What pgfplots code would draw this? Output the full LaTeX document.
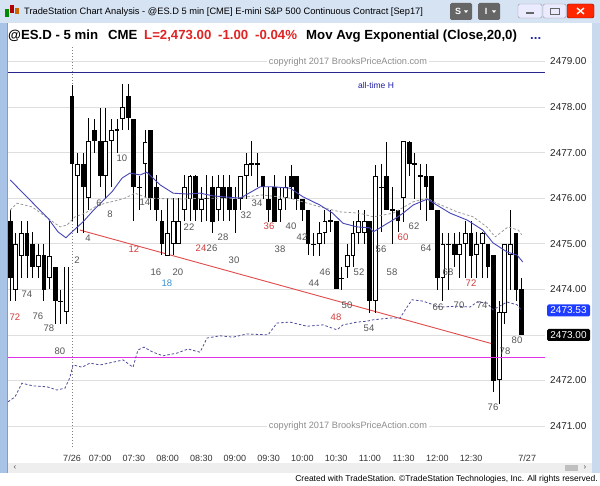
\documentclass[border=0pt]{standalone}
\usepackage{pgfplots}
\pgfplotsset{compat=1.18}
\usepackage{pgfplotstable}
\usepackage{fontspec}
\setmainfont{Liberation Sans}
\definecolor{framebg}{HTML}{C9D9EE}
\definecolor{titlebg}{HTML}{D6E3F3}
\definecolor{leftblue}{HTML}{A9C3E6}
\definecolor{scrollbg}{HTML}{EEEEEE}
\definecolor{hdrred}{HTML}{E02424}
\definecolor{hdrblue}{HTML}{2A2AA0}
\definecolor{emablue}{HTML}{4646B8}
\definecolor{dashgray}{HTML}{9A9A9A}
\definecolor{dashblue}{HTML}{4C4C9C}
\definecolor{trendred}{HTML}{E04A4A}
\definecolor{athnavy}{HTML}{26268C}
\definecolor{lblgray}{HTML}{555555}
\definecolor{lblred}{HTML}{D23C3C}
\definecolor{lblblue}{HTML}{3A8FD0}
\definecolor{pxblue}{HTML}{1E3CFF}
\definecolor{levelpink}{RGB}{230,50,230}

\pgfplotstableread{
u O H L C
-9 2474.00 2475.25 2473.75 2475.00
-8 2474.75 2475.50 2474.25 2475.25
-5 2474.50 2475.00 2474.25 2474.75
-3 2474.25 2475.50 2474.00 2474.75
0 2473.50 2474.50 2473.25 2474.50
2 2476.50 2477.00 2475.25 2476.75
4 2476.00 2477.75 2475.75 2477.25
7 2476.50 2478.00 2476.00 2477.25
8 2477.25 2477.75 2476.25 2477.50
10 2477.75 2478.50 2477.50 2478.00
14 2476.75 2477.50 2476.00 2477.25
18 2474.75 2476.00 2474.75 2475.25
19 2475.00 2476.00 2474.75 2475.50
20 2475.00 2476.00 2475.00 2475.50
21 2475.75 2476.50 2475.50 2476.25
22 2476.00 2476.50 2475.50 2476.50
24 2475.75 2476.25 2475.50 2476.00
27 2475.75 2476.50 2475.50 2476.25
31 2476.00 2476.50 2475.75 2476.50
32 2476.50 2477.00 2476.00 2476.75
38 2475.75 2476.25 2475.50 2476.00
39 2476.00 2476.50 2475.75 2476.25
45 2475.00 2475.50 2474.75 2475.25
46 2475.25 2475.75 2475.00 2475.50
50 2474.50 2475.00 2474.25 2474.75
51 2474.75 2475.50 2474.50 2475.25
52 2475.25 2475.75 2475.00 2475.50
53 2475.25 2475.75 2475.00 2475.50
55 2473.75 2476.75 2473.50 2476.50
60 2476.00 2477.25 2475.50 2477.25
67 2474.25 2475.25 2473.75 2475.00
70 2474.75 2475.25 2474.25 2475.00
71 2475.00 2475.50 2474.25 2475.25
73 2474.75 2475.25 2474.25 2475.00
74 2475.00 2475.25 2474.25 2475.25
77 2472.00 2473.75 2471.50 2473.50
78 2473.50 2475.00 2473.25 2475.00
79 2474.75 2475.75 2474.00 2475.00
}\bull

\pgfplotstableread{
u O H L C
-10 2475.50 2475.75 2473.75 2474.25
-7 2475.25 2475.50 2474.25 2474.75
-6 2475.00 2475.25 2474.25 2474.50
-4 2474.75 2475.00 2473.75 2474.00
-2 2474.50 2474.50 2473.25 2473.75
-1 2473.75 2474.00 2473.25 2473.75
1 2478.25 2478.50 2475.50 2476.75
3 2476.75 2477.00 2475.25 2476.25
5 2477.50 2477.75 2477.00 2477.25
6 2477.25 2478.00 2476.25 2476.50
9 2477.50 2477.75 2477.00 2477.50
11 2478.25 2478.50 2477.50 2477.75
12 2477.75 2477.75 2475.50 2476.25
13 2476.25 2476.50 2475.75 2476.25
15 2477.50 2477.50 2475.75 2476.00
16 2476.25 2476.50 2475.50 2475.75
17 2475.50 2475.75 2474.75 2475.00
23 2476.50 2476.50 2475.50 2475.75
25 2476.00 2476.50 2475.50 2476.00
26 2476.25 2476.50 2475.25 2475.50
28 2476.25 2476.50 2475.50 2476.00
29 2476.25 2476.50 2475.50 2475.75
30 2476.00 2476.25 2475.25 2475.75
33 2476.75 2477.25 2476.50 2476.75
34 2476.75 2477.00 2476.25 2476.75
35 2476.50 2476.50 2476.00 2476.25
36 2476.00 2476.25 2475.50 2475.75
37 2476.25 2476.50 2475.50 2475.50
40 2476.50 2476.75 2476.00 2476.25
41 2476.50 2476.50 2475.75 2476.00
42 2476.00 2476.00 2475.50 2475.75
43 2475.75 2475.75 2474.75 2475.00
44 2475.00 2475.25 2474.75 2475.00
47 2475.50 2475.75 2475.25 2475.50
48 2475.50 2475.50 2474.00 2474.00
49 2474.25 2474.50 2474.00 2474.25
54 2475.50 2475.50 2473.50 2473.75
56 2476.25 2476.75 2475.25 2476.25
57 2476.50 2477.25 2475.75 2475.75
58 2475.75 2476.25 2475.00 2475.75
59 2475.75 2475.75 2475.25 2475.50
61 2477.25 2477.25 2476.50 2476.75
62 2476.75 2477.00 2476.00 2476.75
63 2476.50 2476.75 2475.75 2476.50
64 2476.50 2476.75 2475.50 2476.25
65 2476.50 2476.50 2475.75 2475.75
66 2475.75 2475.75 2474.00 2474.25
68 2475.00 2475.25 2474.00 2475.00
69 2475.00 2475.25 2474.50 2474.75
72 2475.25 2475.50 2474.25 2474.75
75 2475.00 2475.00 2474.25 2474.50
76 2474.75 2474.75 2471.75 2472.00
80 2475.25 2475.25 2473.75 2474.00
81 2474.00 2474.25 2473.00 2473.00
}\bear

\pgfplotstableread{
u p
-10.388 2472.50
85.16 2472.50
}\pinklevel

\newcommand{\lab}[4]{\node[font=\fontsize{9.5}{11}\selectfont, text=#4, inner sep=0pt] at (#1,#2) {#3};}

\begin{document}
\begin{tikzpicture}
\useasboundingbox (0,0) rectangle (600pt,485pt);
% ---------- window background ----------
\begin{scope}[x=1pt,y=-1pt,shift={(0pt,485pt)}]
  \fill[framebg] (0,0) rectangle (600,485);
  \fill[titlebg] (0,0) rectangle (600,23);
  \fill[white] (8,23) rectangle (592,463);
  \fill[leftblue] (0,23) rectangle (7,473);
  \draw[blue!45!white, line width=0.8pt] (7,23) -- (7,473);
  \fill[scrollbg] (8,463) rectangle (592,473);
  \fill[black!25] (565,465) rectangle (578,471);
  \node[font=\fontsize{8}{9}\selectfont, text=black!70] at (15,468) {‹};
  \node[font=\fontsize{8}{9}\selectfont, text=black!70] at (585,468) {›};
  \fill[white] (0,473) rectangle (600,485);
  % title bar
  \fill[green!55!black] (5,9) rectangle (9,17);
  \fill[red!70!black] (10,5) rectangle (14,13);
  \fill[orange!80!black] (15,8) rectangle (19,14);
  \node[anchor=west, font=\fontsize{9.3}{11}\selectfont, inner sep=0pt] at (24,12.5)
    {TradeStation Chart Analysis - @ES.D 5 min [CME] E-mini S\&P 500 Continuous Contract [Sep17]};
  \fill[black!60, rounded corners=1.5pt] (450,3) rectangle (472,20);
  \node[font=\bfseries\fontsize{9}{10}\selectfont, text=white] at (458,11.5) {S};
  \fill[white] (464,10.5) -- (468,10.5) -- (466,13) -- cycle;
  \fill[black!60, rounded corners=1.5pt] (478,3) rectangle (500,20);
  \node[font=\bfseries\fontsize{9}{10}\selectfont, text=white] at (486,11.5) {I};
  \fill[white] (492,10.5) -- (496,10.5) -- (494,13) -- cycle;
  \draw[black!40, fill=blue!8, rounded corners=2pt] (518,4) rectangle (542,18);
  \fill[black!60] (526,12) rectangle (534,14);
  \draw[black!40, fill=blue!8, rounded corners=2pt] (543,4) rectangle (566,18);
  \draw[black!60, line width=0.8pt] (550,8) rectangle (559,14);
  \draw[red!50!black, fill=red!70!orange, rounded corners=2pt] (567,4) rectangle (594,18);
  \draw[white, line width=1.4pt] (577,8) -- (584,14) (577,14) -- (584,8);
  % header
  \begin{scope}[every node/.style={anchor=base west, inner sep=0pt, font=\bfseries\fontsize{13.2}{15}\selectfont}]
    \node at (8,39.5) {@ES.D - 5 min};
    \node at (108,39.5) {CME};
    \node[text=hdrred] at (144,39.5) {L=2,473.00};
    \node[text=hdrred] at (218,39.5) {-1.00};
    \node[text=hdrred] at (255,39.5) {-0.04\%};
    \node at (306,39.5) {Mov Avg Exponential (Close,20,0)};
    \node[text=hdrblue] at (530,39.5) {...};
  \end{scope}
  % footer
  \node[anchor=east, font=\fontsize{8.5}{10}\selectfont, inner sep=0pt] at (598,479.5)
    {Created with TradeStation. ©TradeStation Technologies, Inc. All rights reserved.};
\end{scope}

% ---------- chart ----------
\begin{axis}[
  at={(8pt,38pt)}, anchor=south west,
  scale only axis, width=537pt, height=401pt,
  xmin=-10.388, xmax=85.16, ymin=2470.539, ymax=2479.340,
  axis line style={draw=none},
  major tick length=0pt,
  ytick={2471,2472,2473,2474,2475,2476,2477,2478,2479},
  yticklabels={2471.00,2472.00,2473.00,2474.00,2475.00,2476.00,2477.00,2478.00,2479.00},
  yticklabel pos=right,
  yticklabel style={anchor=west, xshift=5pt, inner sep=0pt, font=\fontsize{10}{12}\selectfont, text=black!85},
  xtick={1,6,12,18,24,30,36,42,48,54,60,66,72,82},
  xticklabels={7/26,07:00,07:30,08:00,08:30,09:00,09:30,10:00,10:30,11:00,11:30,12:00,12:30,7/27},
  xticklabel style={anchor=center, yshift=-11pt, inner sep=0pt, font=\fontsize{9}{11}\selectfont, text=black!80},
  ymajorgrids,
  major grid style={draw=black!13, line width=0.7pt},
]
% day separator
\addplot[forget plot, draw=black!50, line width=0.9pt, dash pattern=on 1pt off 2pt] coordinates {(1,2470.539) (1,2479.340)};
% all-time high level
\addplot[forget plot, draw={rgb,255:red,38;green,38;blue,140}, line width=0.9pt] coordinates {(-10.388,2478.75) (85.16,2478.75)};
% trend line
\addplot[forget plot, color=trendred, line width=0.9pt] coordinates {(2.42,2475.30) (75.9,2472.80)};
% wicks
\addplot[forget plot, draw=none, mark=none, error bars/.cd, y dir=both, y explicit, error mark=none,
  error bar style={draw=black, line width=0.9pt}]
  table[x=u, y expr={(\thisrow{H}+\thisrow{L})/2}, y error expr={(\thisrow{H}-\thisrow{L})/2}] {\bull};
\addplot[forget plot, draw=none, mark=none, error bars/.cd, y dir=both, y explicit, error mark=none,
  error bar style={draw=black, line width=0.9pt}]
  table[x=u, y expr={(\thisrow{H}+\thisrow{L})/2}, y error expr={(\thisrow{H}-\thisrow{L})/2}] {\bear};
% bodies
\addplot[forget plot, draw=none, mark=none, error bars/.cd, y dir=both, y explicit, error mark=none,
  error bar style={draw=black, line width=4.8pt}]
  table[x=u, y expr={(\thisrow{O}+\thisrow{C})/2}, y error expr={max(abs(\thisrow{C}-\thisrow{O})/2,0.012)}] {\bear};
\addplot[forget plot, draw=none, mark=none, error bars/.cd, y dir=both, y explicit, error mark=none,
  error bar style={draw=black, line width=4.8pt}]
  table[x=u, y expr={(\thisrow{O}+\thisrow{C})/2}, y error expr={abs(\thisrow{C}-\thisrow{O})/2}] {\bull};
\addplot[forget plot, draw=none, mark=none, error bars/.cd, y dir=both, y explicit, error mark=none,
  error bar style={draw=white, line width=2.9pt}]
  table[x=u, y expr={(\thisrow{O}+\thisrow{C})/2}, y error expr={abs(\thisrow{C}-\thisrow{O})/2-0.021}] {\bull};
% magenta level, drawn over the bars
\addplot[forget plot, draw=levelpink, line width=1pt] table[x=u, y=p] {\pinklevel};
% lower blue dashed line
\addplot[forget plot, color=dashblue, line width=0.8pt, dash pattern=on 2.5pt off 2pt] coordinates {
(-10.39,2471.53) (-9.14,2471.64) (-7.90,2471.94) (-5.94,2471.88) (-3.45,2471.86) (-1.67,2471.79)
(-0.25,2471.83) (0.64,2472.07) (1.18,2472.34) (2.78,2472.29) (4.20,2472.38) (5.98,2472.34)
(8.30,2472.40) (10.07,2472.45) (11.85,2472.29) (12.74,2472.67) (13.81,2472.73) (15.41,2472.62)
(17.19,2472.54) (19.68,2472.60) (21.64,2472.69) (23.78,2472.62) (25.02,2472.93) (27.33,2472.98)
(29.65,2472.95) (32.14,2473.02) (35.88,2473.00) (37.48,2473.26) (39.79,2473.28) (42.81,2473.19)
(45.66,2473.22) (48.15,2473.11) (49.22,2473.22) (51.71,2473.28) (53.49,2473.30) (54.56,2473.33)
(57.58,2473.37) (59.36,2473.37) (60.61,2473.61) (61.50,2473.77) (63.46,2473.74) (66.48,2473.61)
(69.51,2473.63) (71.82,2473.61) (73.06,2473.72) (74.84,2473.70) (75.91,2473.55) (78.40,2473.72)
(80.20,2473.66) (81.00,2473.53)};
% gray dashed average
\addplot[forget plot, color=dashgray, line width=0.8pt, dash pattern=on 2.5pt off 2pt] coordinates {
(-10.0,2475.74) (-8.79,2475.89) (-6.12,2475.81) (-3.27,2475.56) (-1.14,2475.37) (0.11,2475.41)
(1.53,2475.59) (3.31,2475.67) (5.09,2475.81) (6.87,2475.89) (8.65,2475.94) (10.43,2476.00)
(12.21,2476.11) (14.52,2476.00) (20.0,2475.98) (25.0,2476.00) (30.0,2476.00) (34.8,2476.07)
(39.8,2476.00) (45.1,2475.81) (48.7,2475.70) (52.2,2475.67) (54.6,2475.59) (58.1,2475.67)
(61.7,2475.92) (64.2,2476.00) (65.9,2475.89) (69.5,2475.70) (72.4,2475.59) (74.8,2475.37)
(76.3,2475.15) (78.6,2475.37) (80.4,2475.30) (81.0,2475.20)};
% EMA 20
\addplot[forget plot, color=emablue, line width=0.9pt] coordinates {
(-10.0,2476.40) (-5.05,2475.78) (-3.27,2475.56) (-1.49,2475.26) (-0.07,2475.13) (1.0,2475.26)
(2.96,2475.48) (4.56,2475.70) (6.34,2475.92) (8.12,2476.14) (9.9,2476.44) (11.3,2476.55)
(13.1,2476.51) (14.3,2476.57) (16.7,2476.29) (19.0,2476.11) (21.5,2476.09) (23.8,2476.11)
(26.1,2476.05) (30.9,2476.00) (34.5,2476.25) (36.8,2476.25) (39.8,2476.22) (42.1,2476.03)
(45.1,2475.85) (47.4,2475.67) (49.2,2475.45) (51.7,2475.37) (54.0,2475.35) (54.6,2475.26)
(58.1,2475.52) (59.9,2475.67) (61.7,2475.85) (64.2,2475.98) (65.9,2475.85) (68.3,2475.67)
(71.3,2475.52) (74.1,2475.30) (75.9,2475.02) (78.4,2474.82) (80.2,2474.75) (81.2,2474.60)};
\end{axis}

% ---------- overlay texts ----------
\begin{scope}[x=1pt,y=-1pt,shift={(0pt,485pt)}]
  \node[fill=white, inner sep=1.5pt, font=\fontsize{9.2}{11}\selectfont, text=black!45] at (348,62) {copyright 2017 BrooksPriceAction.com};
  \node[fill=white, inner sep=1.5pt, font=\fontsize{9.2}{11}\selectfont, text=black!45] at (348,426) {copyright 2017 BrooksPriceAction.com};
  \node[font=\fontsize{8.5}{10}\selectfont, text=athnavy!80!blue, inner sep=0pt] at (376,85) {all-time H};
  \fill[pxblue, rounded corners=1.5pt] (547,304.5) rectangle (590,316.5);
  \node[font=\fontsize{10}{12}\selectfont, text=white, inner sep=0pt] at (568.5,310.5) {2473.53};
  \fill[black, rounded corners=1.5pt] (547,329) rectangle (590,341);
  \node[font=\fontsize{10}{12}\selectfont, text=white, inner sep=0pt] at (568.5,335) {2473.00};
  % bar labels
  \lab{15}{317}{72}{lblred}
  \lab{27}{294}{74}{lblgray}
  \lab{38}{316}{76}{lblgray}
  \lab{49}{328}{78}{lblgray}
  \lab{60}{351}{80}{lblgray}
  \lab{77}{260}{2}{lblgray}
  \lab{88}{238}{4}{lblgray}
  \lab{99}{203}{6}{lblgray}
  \lab{110}{214}{8}{lblgray}
  \lab{122}{158}{10}{lblgray}
  \lab{134}{249}{12}{lblred}
  \lab{145}{202}{14}{lblgray}
  \lab{156}{272}{16}{lblgray}
  \lab{167}{283}{18}{lblblue}
  \lab{178}{272}{20}{lblgray}
  \lab{189}{227}{22}{lblgray}
  \lab{201}{248}{24}{lblred}
  \lab{212}{248}{26}{lblgray}
  \lab{223}{237}{28}{lblgray}
  \lab{234}{260}{30}{lblgray}
  \lab{246}{215}{32}{lblgray}
  \lab{257}{203}{34}{lblgray}
  \lab{269}{226}{36}{lblred}
  \lab{280}{249}{38}{lblgray}
  \lab{291}{226}{40}{lblgray}
  \lab{302}{237}{42}{lblgray}
  \lab{314}{283}{44}{lblgray}
  \lab{325}{272}{46}{lblgray}
  \lab{336}{317}{48}{lblred}
  \lab{347}{305}{50}{lblgray}
  \lab{359}{272}{52}{lblgray}
  \lab{369}{328}{54}{lblgray}
  \lab{381}{249}{56}{lblgray}
  \lab{392}{272}{58}{lblgray}
  \lab{403}{237}{60}{lblred}
  \lab{414}{226}{62}{lblgray}
  \lab{426}{248}{64}{lblgray}
  \lab{438}{307}{66}{lblgray}
  \lab{448}{272}{68}{lblgray}
  \lab{459}{305}{70}{lblgray}
  \lab{471}{283}{72}{lblred}
  \lab{482}{305}{74}{lblgray}
  \lab{493}{407}{76}{lblgray}
  \lab{505}{351}{78}{lblgray}
  \lab{517}{340}{80}{lblgray}
\end{scope}
\end{tikzpicture}
\end{document}
